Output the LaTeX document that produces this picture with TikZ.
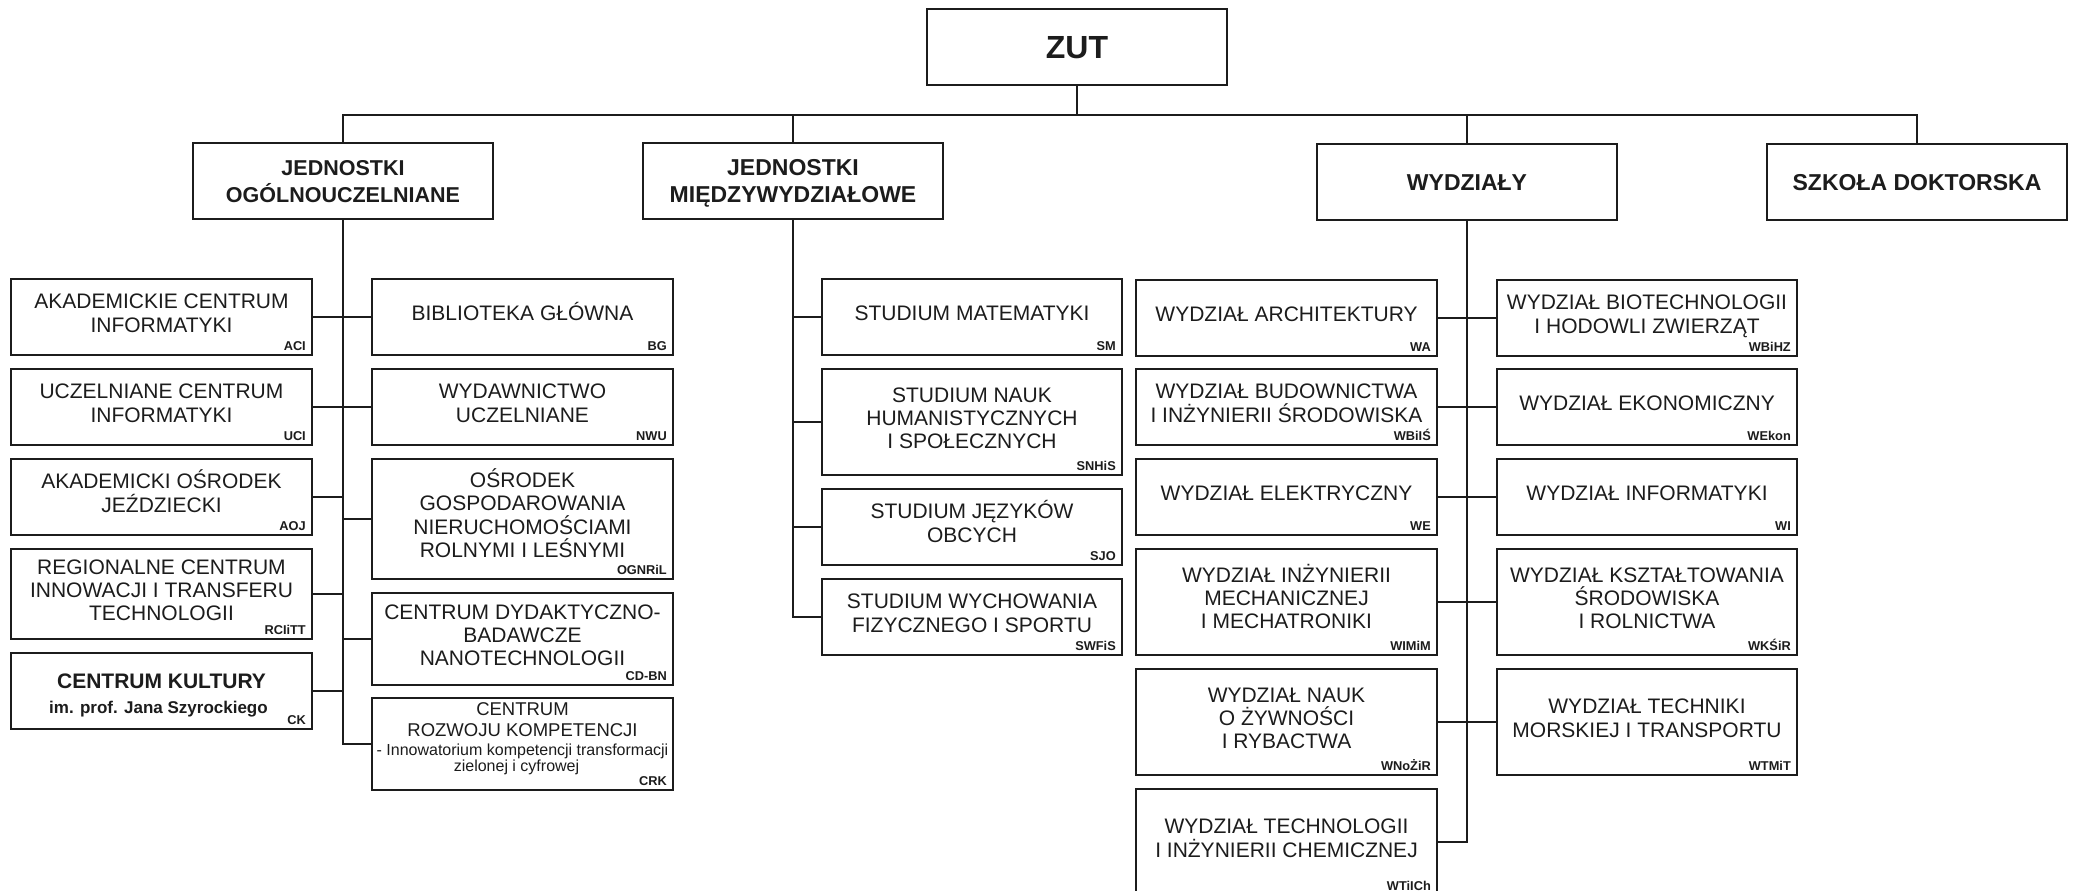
\documentclass[tikz,border=0pt]{standalone}
\usepackage{fontspec}
\setmainfont{Liberation Sans}
\definecolor{ink}{HTML}{1C1C1C}
\tikzset{
  box/.style={draw=ink, line width=2pt, inner sep=0pt, fill=white},
  conn/.style={draw=ink, line width=2pt},
  txt/.style={font=\fontsize{21}{23.4}\selectfont, align=center, text=ink, inner sep=0pt, text depth=0pt},
  l1/.style={text height=15pt}, l2/.style={text height=38.4pt},
  l3/.style={text height=61.8pt}, l4/.style={text height=85.2pt},
  head/.style={font=\bfseries\fontsize{23}{27}\selectfont, align=center, text=ink, inner sep=0pt, text depth=0pt},
  abbr/.style={font=\bfseries\fontsize{12.8}{13}\selectfont, anchor=base east, inner sep=0pt, text=ink},
}
\newcommand\orgbox[8]{%
  \node[box, minimum width=#4pt, minimum height=#5pt] (#1) at (#2,#3) {};
  \node[txt, l#6] (#1-t) at ([yshift=4pt]#1.center) {#7};
  \node[abbr] (#1-a) at ([xshift=-7pt,yshift=6pt]#1.south east) {#8};
}
\begin{document}
\begin{tikzpicture}[x=1pt,y=-1pt]
\useasboundingbox (0,0) rectangle (2073,891);
\fill[white] (0,0) rectangle (2073,891);

% top level
\node[box, minimum width=300pt, minimum height=76pt] (zut) at (1077,47) {};
\node[head, font=\bfseries\fontsize{32}{32}\selectfont, text height=23pt] (zut-t) at (zut.center) {ZUT};
\node[box, minimum width=300pt, minimum height=76pt] (jo) at (343,181) {};
\node[head, font=\bfseries\fontsize{21.5}{27}\selectfont, text height=42.5pt] (jo-t) at (jo.center) {JEDNOSTKI\\OGÓLNOUCZELNIANE};
\node[box, minimum width=300pt, minimum height=76pt] (jm) at (793,181) {};
\node[head, text height=43.5pt] (jm-t) at (jm.center) {JEDNOSTKI\\MIĘDZYWYDZIAŁOWE};
\node[box, minimum width=300pt, minimum height=76pt] (wydz) at (1467,182) {};
\node[head, text height=16.5pt] (wydz-t) at (wydz.center) {WYDZIAŁY};
\node[box, minimum width=300pt, minimum height=76pt] (szk) at (1917,182) {};
\node[head, text height=16.5pt] (szk-t) at (szk.center) {SZKOŁA DOKTORSKA};

% jednostki ogolnouczelniane - left column
\orgbox{aci}{161.5}{317}{301}{76}{2}{AKADEMICKIE CENTRUM\\INFORMATYKI}{ACI}
\orgbox{uci}{161.5}{407}{301}{76}{2}{UCZELNIANE CENTRUM\\INFORMATYKI}{UCI}
\orgbox{aoj}{161.5}{497}{301}{76}{2}{AKADEMICKI OŚRODEK\\JEŹDZIECKI}{AOJ}
\orgbox{rci}{161.5}{594}{301}{90}{3}{REGIONALNE CENTRUM\\INNOWACJI I TRANSFERU\\TECHNOLOGII}{RCIiTT}
\node[box, minimum width=301pt, minimum height=76pt] (ck) at (161.5,691) {};
\node[txt, font=\bfseries\fontsize{21}{23}\selectfont, anchor=base] (ck-t) at ([yshift=3pt]ck.center) {CENTRUM KULTURY};
\node[txt, font=\bfseries\fontsize{17}{19}\selectfont, anchor=base] (ck-s) at ([xshift=-3pt,yshift=-22pt]ck.center) {im. prof. Jana Szyrockiego};
\node[abbr] (ck-a) at ([xshift=-7pt,yshift=6pt]ck.south east) {CK};

% right column
\orgbox{bg}{522.5}{317}{301}{76}{1}{BIBLIOTEKA GŁÓWNA}{BG}
\orgbox{nwu}{522.5}{407}{301}{76}{2}{WYDAWNICTWO\\UCZELNIANE}{NWU}
\orgbox{ogn}{522.5}{519}{301}{120}{4}{OŚRODEK\\GOSPODAROWANIA\\NIERUCHOMOŚCIAMI\\ROLNYMI I LEŚNYMI}{OGNRiL}
\orgbox{cdbn}{522.5}{639}{301}{92}{3}{CENTRUM DYDAKTYCZNO-\\BADAWCZE\\NANOTECHNOLOGII}{CD-BN}
\node[box, minimum width=301pt, minimum height=92pt] (crk) at (522.5,744) {};
\node[txt, font=\fontsize{18.5}{20}\selectfont, anchor=base] (crk-t1) at ([yshift=28.5pt]crk.center) {CENTRUM};
\node[txt, font=\fontsize{18.5}{20}\selectfont, anchor=base] (crk-t2) at ([yshift=7.5pt]crk.center) {ROZWOJU KOMPETENCJI};
\node[txt, font=\fontsize{16}{17}\selectfont, anchor=base] (crk-t3) at ([yshift=-11.5pt]crk.center) {- Innowatorium kompetencji transformacji};
\node[txt, font=\fontsize{16}{17}\selectfont, anchor=base] (crk-t4) at ([xshift=-6pt,yshift=-27pt]crk.center) {zielonej i cyfrowej};
\node[abbr] (crk-a) at ([xshift=-7pt,yshift=6pt]crk.south east) {CRK};

% jednostki miedzywydzialowe
\orgbox{sm}{972}{317}{300}{76}{1}{STUDIUM MATEMATYKI}{SM}
\orgbox{snhis}{972}{422}{300}{106}{3}{STUDIUM NAUK\\HUMANISTYCZNYCH\\I SPOŁECZNYCH}{SNHiS}
\orgbox{sjo}{972}{527}{300}{76}{2}{STUDIUM JĘZYKÓW\\OBCYCH}{SJO}
\orgbox{swfis}{972}{617}{300}{76}{2}{STUDIUM WYCHOWANIA\\FIZYCZNEGO I SPORTU}{SWFiS}

% wydzialy
\orgbox{wa}{1286.5}{318}{301}{76}{1}{WYDZIAŁ ARCHITEKTURY}{WA}
\orgbox{wbiis}{1286.5}{407}{301}{76}{2}{WYDZIAŁ BUDOWNICTWA\\I INŻYNIERII ŚRODOWISKA}{WBiIŚ}
\orgbox{we}{1286.5}{497}{301}{76}{1}{WYDZIAŁ ELEKTRYCZNY}{WE}
\orgbox{wimim}{1286.5}{602}{301}{106}{3}{WYDZIAŁ INŻYNIERII\\MECHANICZNEJ\\I MECHATRONIKI}{WIMiM}
\orgbox{wnozir}{1286.5}{722}{301}{106}{3}{WYDZIAŁ NAUK\\O ŻYWNOŚCI\\I RYBACTWA}{WNoŻiR}
\orgbox{wtiich}{1286.5}{842}{301}{106}{2}{WYDZIAŁ TECHNOLOGII\\I INŻYNIERII CHEMICZNEJ}{WTiICh}
\orgbox{wbihz}{1647}{318}{300}{76}{2}{WYDZIAŁ BIOTECHNOLOGII\\I HODOWLI ZWIERZĄT}{WBiHZ}
\orgbox{wekon}{1647}{407}{300}{76}{1}{WYDZIAŁ EKONOMICZNY}{WEkon}
\orgbox{wi}{1647}{497}{300}{76}{1}{WYDZIAŁ INFORMATYKI}{WI}
\orgbox{wksir}{1647}{602}{300}{106}{3}{WYDZIAŁ KSZTAŁTOWANIA\\ŚRODOWISKA\\I ROLNICTWA}{WKŚiR}
\orgbox{wtmit}{1647}{722}{300}{106}{2}{WYDZIAŁ TECHNIKI\\MORSKIEJ I TRANSPORTU}{WTMiT}

% connectors: top bus
\coordinate (busy) at (0,115);
\draw[conn] (jo.north) -- (jo.north |- busy) -- (szk.north |- busy) -- (szk.north);
\draw[conn] (zut.south) -- (zut.south |- busy);
\draw[conn] (jm.north) -- (jm.north |- busy);
\draw[conn] (wydz.north) -- (wydz.north |- busy);

% jednostki ogolnouczelniane
\draw[conn] (jo.south) |- (crk.west);
\foreach \n in {aci,uci,aoj,rci,ck} \draw[conn] (\n.east) -- (\n.east -| jo.south);
\foreach \n in {bg,nwu,ogn,cdbn} \draw[conn] (\n.west) -- (\n.west -| jo.south);

% jednostki miedzywydzialowe
\draw[conn] (jm.south) |- (swfis.west);
\foreach \n in {sm,snhis,sjo} \draw[conn] (\n.west) -- (\n.west -| jm.south);

% wydzialy
\draw[conn] (wydz.south) |- (wtiich.east);
\foreach \n in {wa,wbiis,we,wimim,wnozir} \draw[conn] (\n.east) -- (\n.east -| wydz.south);
\foreach \n in {wbihz,wekon,wi,wksir,wtmit} \draw[conn] (\n.west) -- (\n.west -| wydz.south);
\end{tikzpicture}
\end{document}
